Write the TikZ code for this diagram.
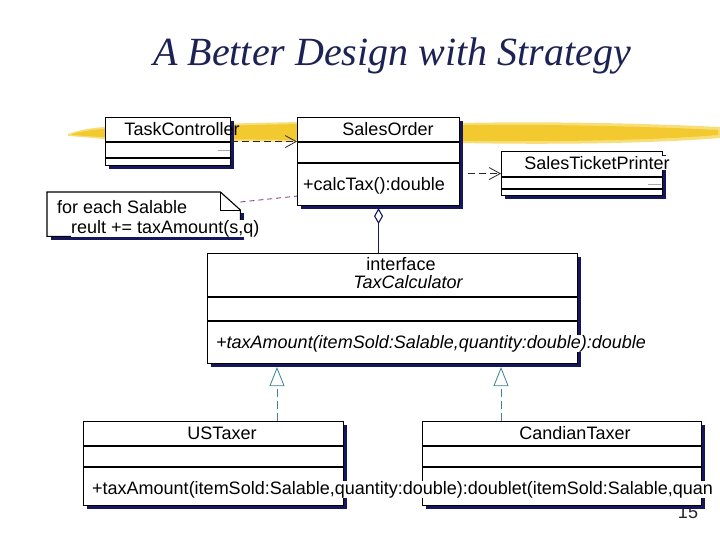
\documentclass[tikz,border=0pt]{standalone}
\usepackage{fontspec}
\setmainfont{Liberation Sans}
\newfontfamily\titlefont{Liberation Serif}
\usetikzlibrary{arrows.meta,positioning,calc,shadows}
\definecolor{umledge}{RGB}{0,0,0}
\definecolor{umlshade}{RGB}{22,22,92}
\definecolor{umltitle}{RGB}{28,34,84}
\definecolor{umlhigh}{RGB}{243,201,48}
\definecolor{umlhighlt}{RGB}{248,222,120}
\definecolor{umlnote}{RGB}{122,48,108}
\definecolor{umlreal}{RGB}{62,132,146}
\definecolor{umldep}{RGB}{40,40,40}
\definecolor{umlstub}{RGB}{170,170,170}
\tikzset{
  classbox/.style={
    draw=umledge, fill=white, line width=1.1pt, inner sep=0pt, anchor=north west,
    general shadow={fill=umlshade, shadow xshift=3.5pt, shadow yshift=-3.5pt}
  },
  cpt/.style={draw=umledge, line width=1.1pt},
  lbl/.style={font=\fontsize{18}{21}\selectfont, inner sep=0pt, text=black},
  ilbl/.style={lbl, font=\fontsize{18}{21}\selectfont\itshape},
  over/.style={fill=white},
  dep/.style={-{Straight Barb[length=11pt,width=12pt]}, draw=umldep, line width=0.8pt,
    dash pattern=on 7pt off 4pt},
  notelink/.style={draw=umlnote, line width=0.8pt, dash pattern=on 5pt off 4pt},
  agg/.style={{Diamond[open,length=16pt,width=9pt]}-, draw=umlshade, line width=1.1pt},
  real/.style={-{Triangle[open,length=19pt,width=15pt]}, draw=umlreal, line width=0.8pt,
    dash pattern=on 8pt off 4pt},
  stub/.style={draw=umlstub, line width=1pt}
}
\begin{document}
\begin{tikzpicture}[x=1pt, y=-1pt]
  \useasboundingbox (0,0) rectangle (720,540);
  \fill[white] (0,0) rectangle (720,540);

  \node[font=\titlefont\itshape\fontsize{40}{44}\selectfont, text=umltitle, inner sep=0pt,
    anchor=base] (title) at (392,66) {A Better Design with Strategy};

  % highlighter stroke behind the top row
  \fill[umlhighlt] (68,134) .. controls (85,128) and (100,127) .. (120,126) -- (300,122)
    -- (460,123) .. controls (560,121) and (660,124) .. (720,127) -- (720,138)
    .. controls (660,143) and (560,145) .. (460,143) -- (300,142) -- (120,140)
    .. controls (100,139) and (85,137) .. (68,136) -- cycle;
  \fill[umlhigh] (72,134) .. controls (85,130) and (100,129) .. (120,128) -- (300,124)
    -- (460,125) .. controls (560,124) and (660,127) .. (718,130) -- (718,135)
    .. controls (660,140) and (560,142) .. (460,141) -- (300,140) -- (120,138)
    .. controls (100,137) and (85,136) .. (72,135) -- cycle;

  % top row
  \node[classbox, minimum width=125pt, minimum height=48pt] (taskctl) at (105,117) {};
  \draw[cpt] (taskctl.west |- 0,142) -- (taskctl.east |- 0,142);
  \draw[cpt] (taskctl.west |- 0,158) -- (taskctl.east |- 0,158);
  \draw[stub] ($(taskctl.east)+(-13,9)$) -- ($(taskctl.east)+(-1,9)$);
  \node[lbl, anchor=base] (taskctlname) at (182,135.5) {TaskController};

  \node[classbox, minimum width=162pt, minimum height=88pt] (salesorder) at (297,117) {};
  \draw[cpt] (salesorder.west |- 0,142) -- (salesorder.east |- 0,142);
  \draw[cpt] (salesorder.west |- 0,163) -- (salesorder.east |- 0,163);
  \node[lbl, anchor=base] (salesordername) at (388,135.5) {SalesOrder};
  \node[lbl, anchor=base west] (calctax) at (303,190.5) {+calcTax():double};

  \node[classbox, minimum width=161pt, minimum height=44pt] (printer) at (501,151) {};
  \draw[cpt] (printer.west |- 0,177) -- (printer.east |- 0,177);
  \draw[cpt] (printer.west |- 0,189) -- (printer.east |- 0,189);
  \draw[stub] ($(printer.east)+(-15,11)$) -- ($(printer.east)+(-2,11)$);
  \node[lbl, over, anchor=base] (printername) at (597,169.5) {SalesTicketPrinter};

  \draw[dep] (taskctl.east) -- (taskctl.east -| salesorder.west);
  \draw[dep] ($(salesorder.east |- printer.west)+(8,0)$) -- (printer.west);

  % note with folded corner
  \node[inner sep=0pt, anchor=north west, minimum width=193pt, minimum height=44pt] (note) at (47,192) {};
  \fill[umlshade] ($(note.north east)+(3.5,21.5)$) rectangle ($(note.south west)+(3.5,3.5)$);
  \draw[cpt, fill=white] (note.north west) -- ($(note.north east)+(-20,0)$)
    -- ($(note.north east)+(0,18)$) -- (note.south east) -- (note.south west) -- cycle;
  \draw[cpt, line width=0.9pt] ($(note.north east)+(-20,0)$) |- ($(note.north east)+(0,18)$);
  \node[lbl, anchor=base west] (notefirst) at ($(note.north west)+(10,21.5)$) {for each Salable};
  \node[lbl, over, anchor=base west] (notesecond) at ($(note.north west)+(24,41.5)$) {reult += taxAmount(s,q)};
  \draw[notelink] ($(note.north east)+(0,10)$) -- ($(salesorder.south west)+(0,-10)$);

  % interface
  \node[classbox, minimum width=370pt, minimum height=110pt] (taxcalc) at (207,253) {};
  \draw[cpt] (taxcalc.west |- 0,297) -- (taxcalc.east |- 0,297);
  \draw[cpt] (taxcalc.west |- 0,321) -- (taxcalc.east |- 0,321);
  \node[lbl, anchor=base] (taxcalcstereo) at (401,270.5) {interface};
  \node[ilbl, anchor=base] (taxcalcname) at (408,288.5) {TaxCalculator};
  \node[ilbl, over, anchor=base west] (taxcalcop) at (216,348.5) {+taxAmount(itemSold:Salable,quantity:double):double};

  \draw[agg, shorten <=2pt] (salesorder.south) -- (salesorder.south |- taxcalc.north);

  % page number, partly under the box
  \node[font=\fontsize{18}{20}\selectfont, text=black!85, inner sep=0pt, anchor=base] (pagenum) at (688,518.5) {15};

  % implementations
  \node[classbox, minimum width=260pt, minimum height=84pt] (ustaxer) at (83,421) {};
  \draw[cpt] (ustaxer.west |- 0,446) -- (ustaxer.east |- 0,446);
  \draw[cpt] (ustaxer.west |- 0,467) -- (ustaxer.east |- 0,467);
  \node[lbl, anchor=base] (ustaxername) at (222,439.5) {USTaxer};

  \node[classbox, minimum width=279pt, minimum height=84pt] (catexer) at (422,421) {};
  \draw[cpt] (catexer.west |- 0,446) -- (catexer.east |- 0,446);
  \draw[cpt] (catexer.west |- 0,467) -- (catexer.east |- 0,467);
  \node[lbl, anchor=base] (catexername) at (575,439.5) {CandianTaxer};

  \node[lbl, over, anchor=base west] (taxerops) at (92,494.5) {+taxAmount(itemSold:Salable,quantity:double):doublet(itemSold:Salable,quan};

  \draw[real, shorten >=3pt] ($(ustaxer.north west)+(194,0)$) coordinate (usup) -- (usup |- taxcalc.south);
  \draw[real, shorten >=3pt] ($(catexer.north west)+(79,0)$) coordinate (caup) -- (caup |- taxcalc.south);
\end{tikzpicture}
\end{document}
